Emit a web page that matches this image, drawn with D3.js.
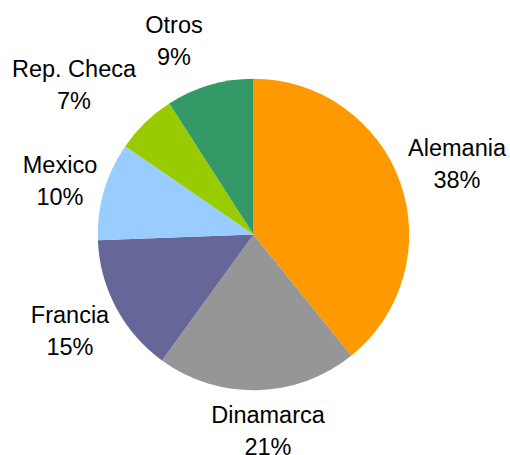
<!DOCTYPE html>
<html>
<head>
<meta charset="utf-8">
<script src="https://cdn.jsdelivr.net/npm/d3@7"></script>
<style>
  body { margin: 0; background: #fff; }
  text { font-family: "Liberation Sans", Arial, sans-serif; fill: #000; }
</style>
</head>
<body>
<div class="myChart"></div>
<script>
var svgWidth = 510;
var svgHeight = 455;

// slices, clockwise from 12 o'clock
var countries = ["Alemania", "Dinamarca", "Francia", "Mexico", "Rep. Checa", "Otros"];
var shares = [39.2, 20.8, 14.4, 10.2, 6.3, 9.1];
var pctLabels = ["38%", "21%", "15%", "10%", "7%", "9%"];
var colors = ["#ff9900", "#969696", "#666699", "#99ccff", "#99cc00", "#339966"];

// label anchor points (text centre, first baseline)
var labelPos = [[457, 156], [268, 423], [70, 323], [60, 173], [74, 77], [174, 33]];

var cx = 253.5, cy = 234.5, radius = 155.7;

var svg = d3.select(".myChart")
  .append("svg")
  .attr("width", svgWidth)
  .attr("height", svgHeight);

var pie = d3.pie()
  .sort(null)
  .value(function(d) { return d; });

var arc = d3.arc()
  .innerRadius(0)
  .outerRadius(radius);

var chart = svg.append("g")
  .attr("transform", "translate(" + cx + "," + cy + ")");

chart.selectAll("path")
  .data(pie(shares))
  .enter().append("path")
    .attr("d", arc)
    .attr("fill", function(d, i) { return colors[i]; });

var labels = svg.selectAll("text.lbl")
  .data(countries)
  .enter().append("text")
    .attr("class", "lbl")
    .attr("text-anchor", "middle")
    .style("font-size", "23.5px")
    .attr("transform", function(d, i) {
      return "translate(" + labelPos[i][0] + "," + labelPos[i][1] + ")";
    });

labels.append("tspan")
  .attr("x", 0)
  .text(function(d) { return d; });

labels.append("tspan")
  .attr("x", 0)
  .attr("dy", 31.5)
  .text(function(d, i) { return pctLabels[i]; });
</script>
</body>
</html>
